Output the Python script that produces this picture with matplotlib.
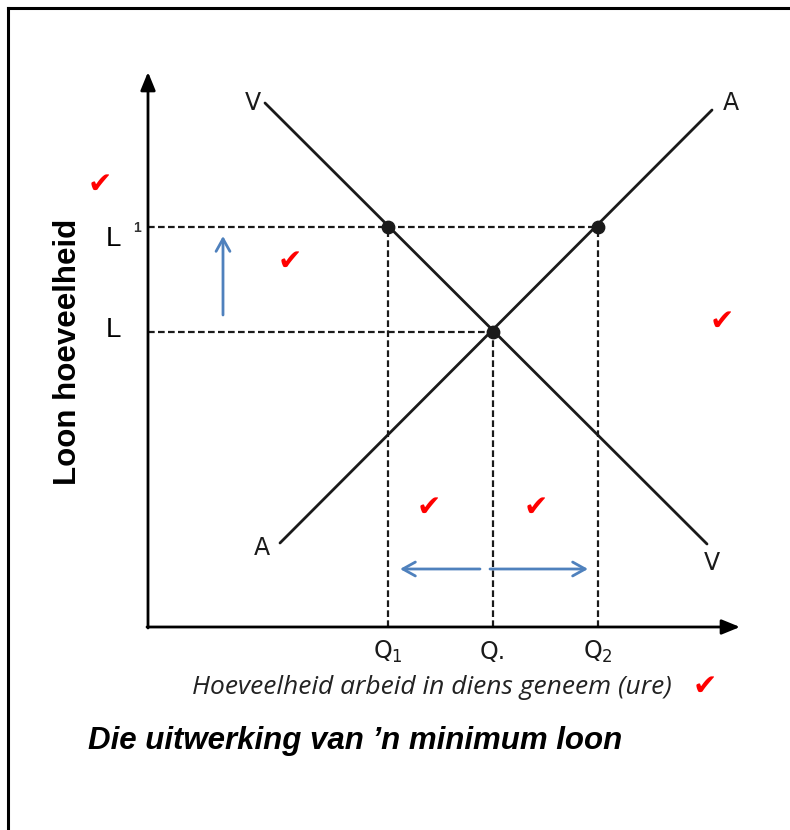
import matplotlib.pyplot as plt
from matplotlib.lines import Line2D

plt.rcParams['font.family'] = ['Liberation Sans', 'DejaVu Sans']

# ---- data (axis units: arbitrary quantity / wage units) ----
q_labels = ["Q$_1$", "Q.", "Q$_2$"]
q_values = [240, 345, 450]          # Q1, Q0, Q2
l_labels = ["L", "L"]
l_values = [400, 295]               # L1 (minimum wage), L0 (equilibrium)

supply_q = [132, 564]               # A-line (aanbod)
supply_l = [84, 517]
demand_q = [117, 559]               # V-line (vraag)
demand_l = [524, 83]

dots_q = [240, 345, 450]
dots_l = [400, 295, 400]

# red tick marks (layout only)
checks = [(-48, 442), (142, 365), (574, 305), (281, 119), (388, 119), (557, -60)]

W, H = 790, 830
fig = plt.figure(figsize=(W / 100, H / 100), dpi=100)

# outer border (only left and top visible in original crop)
fig.add_artist(Line2D([8 / W, 8 / W], [0, 1 - 8 / H], color="black", lw=2.2))
fig.add_artist(Line2D([8 / W, 1], [1 - 8 / H, 1 - 8 / H], color="black", lw=2.2))

x0, y0, xw, yh = 148, 627, 592, 555
ax = fig.add_axes([x0 / W, (H - y0) / H, xw / W, yh / H])
ax.set_xlim(0, xw)
ax.set_ylim(0, yh)
ax.axis("off")

# axes with arrow heads
arrow_kw = dict(arrowstyle="-|>,head_length=1.1,head_width=0.45", color="black", lw=2, shrinkA=0, shrinkB=0)
ax.annotate("", xy=(0, yh), xytext=(0, -1), xycoords="data", arrowprops=arrow_kw, annotation_clip=False)
ax.annotate("", xy=(xw, 0), xytext=(-1, 0), xycoords="data", arrowprops=arrow_kw, annotation_clip=False)

# supply and demand
ax.plot(supply_q, supply_l, color="#1a1a1a", lw=2, solid_capstyle="round")
ax.plot(demand_q, demand_l, color="#1a1a1a", lw=2, solid_capstyle="round")

# dashed guides
dash = dict(color="#1a1a1a", lw=1.6, ls=(0, (3, 1.5)))
ax.plot([0, q_values[2]], [l_values[0], l_values[0]], **dash)
ax.plot([0, q_values[1]], [l_values[1], l_values[1]], **dash)
ax.plot([q_values[0], q_values[0]], [0, l_values[0]], **dash)
ax.plot([q_values[1], q_values[1]], [0, l_values[1]], **dash)
ax.plot([q_values[2], q_values[2]], [0, l_values[0]], **dash)

ax.scatter(dots_q, dots_l, s=80, color="#1a1a1a", zorder=5)

# curve labels
lab = dict(fontsize=17, color="#1a1a1a", ha="center", va="center", family=["DejaVu Sans"])
ax.text(demand_q[0] - 12, demand_l[0], "V", **lab)
ax.text(supply_q[1] + 19, supply_l[1] + 7, "A", **lab)
ax.text(supply_q[0] - 18, supply_l[0] - 5, "A", **lab)
ax.text(demand_q[1] + 5, demand_l[1] - 19, "V", **lab)

# Q labels
for q, s in zip(q_values, q_labels):
    ax.text(q, -25, s, fontsize=17, ha="center", va="center", color="#1a1a1a",
            family=["DejaVu Sans"], clip_on=False)

# L labels
for l, s in zip(l_values, l_labels):
    ax.text(-35, l - 12 if l == l_values[0] else l + 2, s, fontsize=20,
            ha="center", va="center", clip_on=False)
ax.text(-11, l_values[0] - 1, "1", fontsize=10, fontweight="bold", color="#333333",
        ha="center", va="center", clip_on=False)

ax.text(-80, 275, "Loon hoeveelheid", rotation=90, fontsize=22.5, fontweight="bold",
        ha="center", va="center", clip_on=False)
ax.text(284, -60, "Hoeveelheid arbeid in diens geneem (ure)", fontsize=19,
        style="italic", color="#222222", ha="center", va="center",
        family=["Open Sans"], clip_on=False)
ax.text(-60, -114, "Die uitwerking van \u2019n minimum loon", fontsize=22.5,
        fontweight="bold", style="italic", ha="left", va="center", clip_on=False)

# blue arrows
blue = dict(arrowstyle="->,head_length=0.9,head_width=0.5", color="#4F81BD", lw=2,
            shrinkA=0, shrinkB=0)
ax.annotate("", xy=(75, 391), xytext=(75, 312), arrowprops=blue)
ax.annotate("", xy=(252, 58), xytext=(332, 58), arrowprops=blue)
ax.annotate("", xy=(440, 58), xytext=(342, 58), arrowprops=blue)

# red check marks
for cx, cy in checks:
    ax.text(cx, cy, "\u2714", fontsize=21, color="#ff0000", ha="center", va="center",
            family=["DejaVu Sans"], clip_on=False)

fig.savefig("out.png", dpi=100)
